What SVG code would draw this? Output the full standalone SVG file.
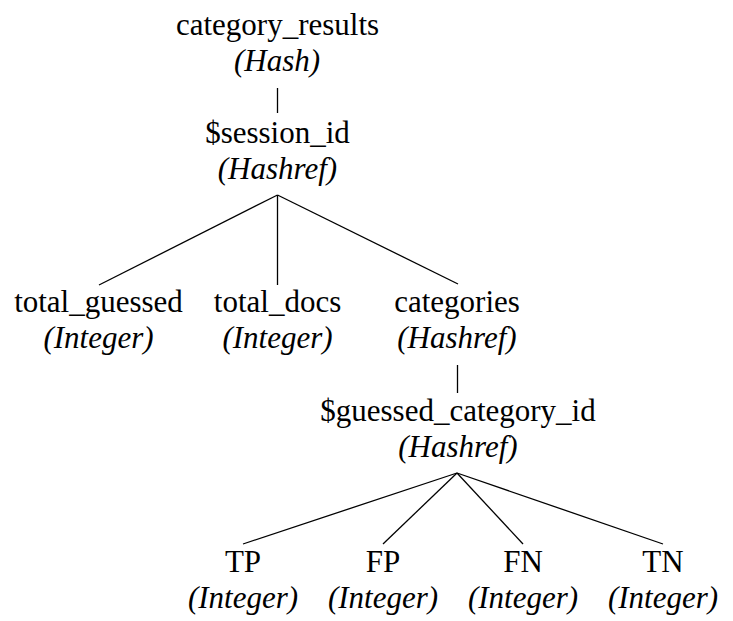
<svg xmlns="http://www.w3.org/2000/svg" width="733" height="621" viewBox="0 0 733 621">
  <style>
    text { font-family: "Liberation Serif", "Times New Roman", serif; font-size: 31px; fill: #000; text-anchor: middle; }
    .type { font-style: italic; }
    .edge { stroke: #000; stroke-width: 1.3; fill: none; }
  </style>
  <rect width="733" height="621" fill="#fff"/>

  <!-- tree edges -->
  <g id="connectors">
    <line class="edge" x1="277.5" y1="88" x2="277.5" y2="113"/>
    <line class="edge" x1="277.5" y1="195" x2="99" y2="285"/>
    <line class="edge" x1="277.5" y1="195" x2="277.5" y2="285"/>
    <line class="edge" x1="277.5" y1="195" x2="458" y2="284"/>
    <line class="edge" x1="457.5" y1="365" x2="457.5" y2="393"/>
    <line class="edge" x1="457" y1="473" x2="243" y2="544"/>
    <line class="edge" x1="457" y1="473" x2="383" y2="544"/>
    <line class="edge" x1="457" y1="473" x2="523" y2="544"/>
    <line class="edge" x1="457" y1="473" x2="663" y2="544"/>
  </g>

  <g id="category_results">
    <text x="277.5" y="35">category_results</text>
    <text class="type" x="277" y="71">(Hash)</text>
  </g>
  <g id="session_id">
    <text x="277.5" y="143">$session_id</text>
    <text class="type" x="277.5" y="179">(Hashref)</text>
  </g>
  <g id="total_guessed">
    <text x="98.5" y="312">total_guessed</text>
    <text class="type" x="98.5" y="348">(Integer)</text>
  </g>
  <g id="total_docs">
    <text x="277.5" y="312">total_docs</text>
    <text class="type" x="277.5" y="348">(Integer)</text>
  </g>
  <g id="categories">
    <text x="457" y="312">categories</text>
    <text class="type" x="457" y="348">(Hashref)</text>
  </g>
  <g id="guessed_category_id">
    <text x="458" y="421">$guessed_category_id</text>
    <text class="type" x="458" y="457">(Hashref)</text>
  </g>
  <g id="TP">
    <text x="243" y="572">TP</text>
    <text class="type" x="243" y="608">(Integer)</text>
  </g>
  <g id="FP">
    <text x="383" y="572">FP</text>
    <text class="type" x="383" y="608">(Integer)</text>
  </g>
  <g id="FN">
    <text x="523" y="572">FN</text>
    <text class="type" x="523" y="608">(Integer)</text>
  </g>
  <g id="TN">
    <text x="663" y="572">TN</text>
    <text class="type" x="663" y="608">(Integer)</text>
  </g>
</svg>
